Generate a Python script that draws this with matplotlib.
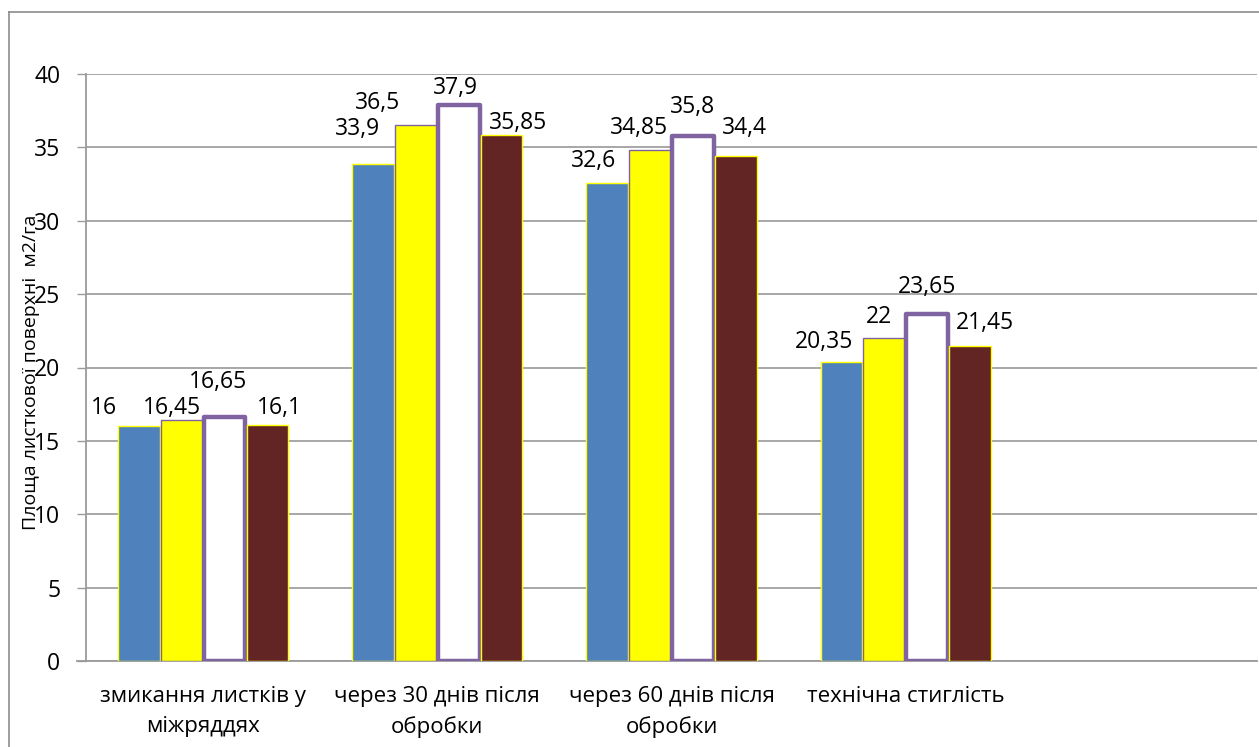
import matplotlib
matplotlib.use("Agg")
import matplotlib.pyplot as plt
from matplotlib.lines import Line2D
import numpy as np

categories = ["змикання листків у\nміжряддях", "через 30 днів після\nобробки",
              "через 60 днів після\nобробки", "технічна стиглість", ""]
series1 = [16, 33.9, 32.6, 20.35]
series2 = [16.45, 36.5, 34.85, 22]
series3 = [16.65, 37.9, 35.8, 23.65]
series4 = [16.1, 35.85, 34.4, 21.45]
y_ticks = [0, 5, 10, 15, 20, 25, 30, 35, 40]
y_label = "Площа листкової поверхні  м2/га"

series = [series1, series2, series3, series4]
faces = ["#4F81BD", "#FFFF00", "#FFFFFF", "#632523"]
edges = ["#FFFF00", "#8064A2", "#8064A2", "#FFFF00"]
lws = [1.0, 1.0, 3.2, 1.0]
# label offsets in pixels (dx, dy) relative to bar top centre, per series per group
offsets = [
    [(-35, 18), (-16, 35), (-14, 22), (-17, 20)],
    [(-10, 12), (-38, 22), (-11, 22), (-5, 21)],
    [(-6, 35), (-3, 17), (0, 29), (0, 27)],
    [(12, 17), (16, 12), (9, 28), (15, 23)],
]

plt.rcParams['font.family'] = ['Open Sans', 'DejaVu Sans']
fig = plt.figure(figsize=(12.59, 7.47), dpi=100)
ax = fig.add_axes([86 / 1259, 1 - 661 / 747, (1257 - 86) / 1259, (661 - 74) / 747])

x = np.arange(len(series1))
width = 0.178
step = 0.183
for k, vals in enumerate(series):
    pos = x + (k - 1.5) * step
    bars = ax.bar(pos, vals, width, color=faces[k], edgecolor=edges[k],
                  linewidth=lws[k], zorder=3, joinstyle='round' if k == 2 else 'miter')
    for i, (b, v) in enumerate(zip(bars, vals)):
        dx, dy = offsets[k][i]
        ax.annotate(f"{v:g}".replace('.', ','), (b.get_x() + b.get_width() / 2, v),
                    xytext=(dx, dy), textcoords='offset pixels',
                    ha='center', va='center', fontsize=16.5, color='black', zorder=5)

ax.set_xlim(-0.5, len(categories) - 0.5)
ax.set_ylim(0, 40)
ax.set_yticks(y_ticks)
ax.set_yticklabels([str(t) for t in y_ticks])
ax.set_xticks(np.arange(len(categories)))
ax.set_xticklabels(categories, fontsize=16, linespacing=1.55)
ax.tick_params(axis='x', length=0, pad=18)
ax.tick_params(axis='y', length=6.5, width=1, color='#9a9a9a', pad=12, labelsize=16.5)
ax.yaxis.grid(True, color='#a0a0a0', linewidth=1.3, zorder=0)
ax.set_axisbelow(True)
for s in ['top', 'right']:
    ax.spines[s].set_visible(False)
for s in ['left', 'bottom']:
    ax.spines[s].set_color('#9a9a9a')
    ax.spines[s].set_linewidth(1.3)
ax.spines['bottom'].set_bounds(-0.5 - 9 / 234.2, len(categories) - 0.5)
ax.spines['bottom'].set_clip_on(False)

ax.set_ylabel(y_label, fontsize=14)
ax.yaxis.set_label_coords((40 - 86) / 1171, (661 - 372) / 587)

# outer chart border
fig.add_artist(Line2D([8.5 / 1259, 8.5 / 1259], [0, 1 - 12 / 747], color='#8c8c8c', lw=1.2,
                      transform=fig.transFigure))
fig.add_artist(Line2D([8.5 / 1259, 1], [1 - 12 / 747, 1 - 12 / 747], color='#8c8c8c', lw=1.2,
                      transform=fig.transFigure))

fig.savefig("out.png", dpi=100)
